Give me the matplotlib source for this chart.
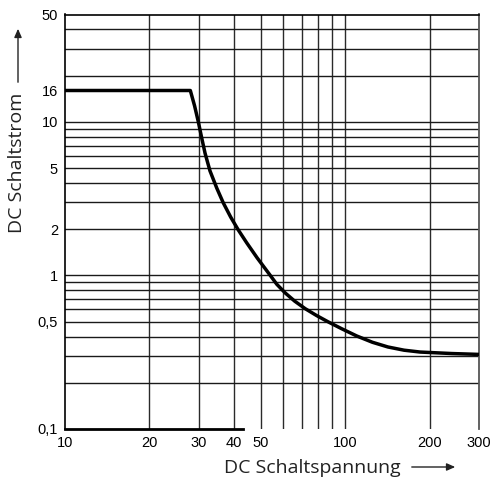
import matplotlib
matplotlib.use("Agg")
import matplotlib.pyplot as plt
from matplotlib.ticker import FixedLocator, NullFormatter

# data
voltage = [10, 28.0, 29.0, 29.9, 30.7, 31.6, 32.9, 34.8, 36.7, 39.0, 41.5, 44.5, 48.5,
           54, 57, 61, 66, 72, 79, 86.6, 97, 110, 125, 142, 162, 185, 240, 300]
current = [16, 16, 12.7, 10.0, 7.95, 6.25, 4.8, 3.7, 2.97, 2.4, 1.98, 1.63, 1.3,
           1.0, 0.875, 0.77, 0.68, 0.607, 0.548, 0.5, 0.45, 0.403, 0.367, 0.342, 0.326,
           0.317, 0.31, 0.306]
xticks = [10, 20, 30, 40, 50, 100, 200, 300]
xticklabels = ["10", "20", "30", "40", "50", "100", "200", "300"]
yticks = [0.1, 0.5, 1, 2, 5, 10, 16, 50]
yticklabels = ["0,1", "0,5", "1", "2", "5", "10", "16", "50"]
xgrid = [20, 30, 40, 50, 60, 70, 80, 90, 100, 200]
ygrid = [0.2, 0.3, 0.4, 0.5, 0.6, 0.7, 0.8, 0.9, 1, 2, 3, 4, 5, 6, 7, 8, 9, 10, 20, 30, 40]
bottom_seg = [10, 43]

fig = plt.figure(figsize=(4.93, 4.79), dpi=100)
ax = fig.add_axes([65/493, 1-429/479, (479-65)/493, (429-14.5)/479])
ax.set_xscale("log")
ax.set_yscale("log")
ax.set_xlim(10, 300)
ax.set_ylim(0.1, 50)

for xv in xgrid:
    ax.axvline(xv, color="#2a2a2a", lw=1.0, zorder=1)
for yv in ygrid:
    ax.axhline(yv, color="#1a1a1a", lw=1.0, zorder=1)

ax.plot(voltage, current, color="black", lw=2.5, zorder=3,
        solid_capstyle="butt", solid_joinstyle="round")

# bottom partial spine
ax.plot(bottom_seg, [0.1, 0.1], color="black", lw=2.0, clip_on=False, zorder=4)

for s in ["left", "top"]:
    ax.spines[s].set_color("black")
    ax.spines[s].set_linewidth(1.2)
ax.spines["right"].set_color("#555555")
ax.spines["right"].set_linewidth(1.3)
ax.spines["bottom"].set_visible(False)

ax.xaxis.set_major_locator(FixedLocator(xticks))
ax.xaxis.set_minor_locator(FixedLocator([]))
ax.set_xticklabels(xticklabels)
ax.yaxis.set_major_locator(FixedLocator(yticks))
ax.yaxis.set_minor_locator(FixedLocator([]))
ax.set_yticklabels(yticklabels)
ax.xaxis.set_minor_formatter(NullFormatter())
ax.yaxis.set_minor_formatter(NullFormatter())

ax.tick_params(axis="x", length=0, pad=5)
ax.tick_params(axis="y", length=0, pad=5)
for lab in ax.get_xticklabels() + ax.get_yticklabels():
    lab.set_fontfamily(["Liberation Sans", "DejaVu Sans"])
    lab.set_fontsize(10.5)

labfont = ["Open Sans", "DejaVu Sans"]
fig.text(224/493, 1-468/479, "DC Schaltspannung", fontsize=14, family=labfont,
         ha="left", va="center", color="#222222")
fig.text(17/493, 1-163/479, "DC Schaltstrom", fontsize=14, family=labfont,
         ha="center", va="center", rotation=90, color="#222222")

fig.patches.append(matplotlib.patches.FancyArrowPatch(
    (409/493, 1-467/479), (458/493, 1-467/479), transform=fig.transFigure,
    arrowstyle="-|>,head_length=5,head_width=2.2", color="#222222", lw=1.0, mutation_scale=1))
fig.patches.append(matplotlib.patches.FancyArrowPatch(
    (18/493, 1-85/479), (18/493, 1-26/479), transform=fig.transFigure,
    arrowstyle="-|>,head_length=5,head_width=2.2", color="#222222", lw=1.0, mutation_scale=1))

fig.savefig("out.png", dpi=100)
